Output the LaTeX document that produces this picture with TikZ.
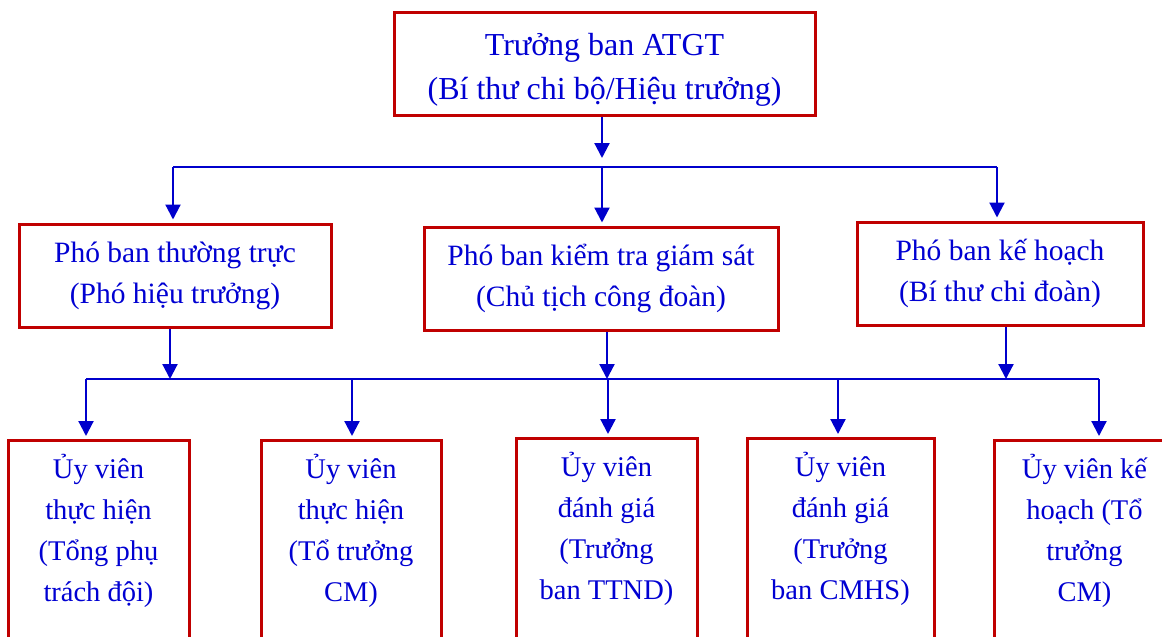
\documentclass[tikz,border=0pt]{standalone}
\usepackage{fontspec}
\setmainfont{Liberation Serif}
\usetikzlibrary{arrows.meta}
\definecolor{boxred}{RGB}{192,0,0}
\definecolor{txtblue}{RGB}{0,0,210}
\definecolor{lnblue}{RGB}{0,0,204}
\newcommand\ubtext[1]{\parbox[c][240pt][t]{178pt}{\centering\rule{0pt}{38pt}#1}}
\tikzset{
  mbox/.style={draw=boxred, line width=3pt, text=txtblue, align=center, inner sep=0pt,
    font=\fontsize{29.5}{41}\selectfont},
  ubox/.style={draw=boxred, line width=3pt, text=txtblue, inner sep=0pt, anchor=north,
    font=\fontsize{28.5}{41}\selectfont},
  ln/.style={draw=lnblue, line width=2.2pt},
  arr/.style={ln, -{Triangle[length=15pt,width=15pt]}},
  arrbox/.style={arr, shorten >=3pt}
}
\begin{document}
\begin{tikzpicture}[x=1pt,y=-1pt]
\useasboundingbox (0,0) rectangle (1162,637);
\clip (0,0) rectangle (1162,637);

% top box
\node[mbox, minimum width=421pt, minimum height=103pt, font=\fontsize{32}{44}\selectfont] (t) at (604.5,63.5)
  {\rule{0pt}{34pt}Trưởng ban ATGT\\(Bí thư chi bộ/Hiệu trưởng)};

% middle boxes
\node[mbox, minimum width=312pt, minimum height=103pt] (p1) at (175,275.5)
  {Phó ban thường trực\\(Phó hiệu trưởng)};
\node[mbox, minimum width=354pt, minimum height=103pt] (p2) at (601,278.5)
  {Phó ban kiểm tra giám sát\\(Chủ tịch công đoàn)};
\node[mbox, minimum width=286pt, minimum height=103pt] (p3) at (1000,273.5)
  {Phó ban kế hoạch\\(Bí thư chi đoàn)};

% bottom boxes
\node[ubox, minimum width=181pt] (u1) at (98.5,439)
  {\ubtext{Ủy viên\\thực hiện\\(Tổng phụ\\trách đội)}};
\node[ubox, minimum width=180pt] (u2) at (351,439)
  {\ubtext{Ủy viên\\thực hiện\\(Tổ trưởng\\CM)}};
\node[ubox, minimum width=181pt] (u3) at (606.5,437)
  {\ubtext{Ủy viên\\đánh giá\\(Trưởng\\ban TTND)}};
\node[ubox, minimum width=187pt] (u4) at (840.5,437)
  {\ubtext{Ủy viên\\đánh giá\\(Trưởng\\ban CMHS)}};
\node[ubox, minimum width=181pt] (u5) at (1084.5,439)
  {\ubtext{Ủy viên kế\\hoạch (Tổ\\trưởng\\CM)}};

% first bus
\coordinate (t0) at (602,158);
\coordinate (a1) at (173,167);
\coordinate (a2) at (602,167);
\coordinate (a3) at (997,167);
\draw[arr] (t.south -| t0) -- (t0);
\draw[ln] (a1) -- (a3);
\draw[arrbox] (a1) -- (a1 |- p1.north);
\draw[arrbox] (a2) -- (a2 |- p2.north);
\draw[arrbox] (a3) -- (a3 |- p3.north);

% second bus
\coordinate (m1) at (170,379);
\coordinate (m2) at (607,379);
\coordinate (m3) at (1006,379);
\draw[arr] (p1.south -| m1) -- (m1);
\draw[arr] (p2.south -| m2) -- (m2);
\draw[arr] (p3.south -| m3) -- (m3);

\coordinate (b1) at (86,379);
\coordinate (b2) at (352,379);
\coordinate (b3) at (608,379);
\coordinate (b4) at (838,379);
\coordinate (b5) at (1099,379);
\draw[ln] (b1) -- (b5);
\draw[arrbox] (b1) -- (b1 |- u1.north);
\draw[arrbox] (b2) -- (b2 |- u2.north);
\draw[arrbox] (b3) -- (b3 |- u3.north);
\draw[arrbox] (b4) -- (b4 |- u4.north);
\draw[arrbox] (b5) -- (b5 |- u5.north);
\end{tikzpicture}
\end{document}
